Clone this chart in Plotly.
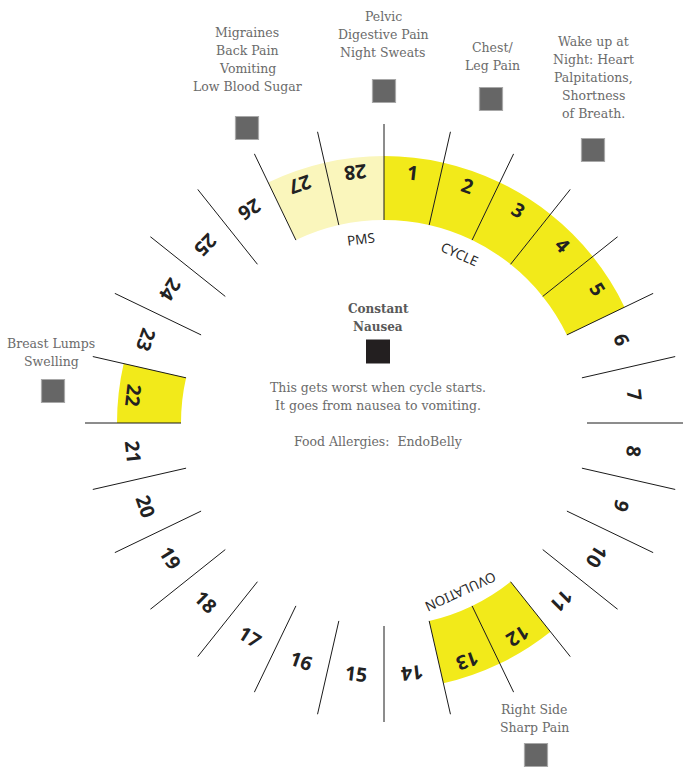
import math
import plotly.graph_objects as go

# ---------------- data ----------------
days = list(range(1, 29))
period_days = [1, 2, 3, 4, 5]          # "CYCLE" (bright yellow)
ovulation_days = [12, 13]              # "OVULATION" (bright yellow)
symptom_days = [22]                    # breast lumps (bright yellow)
pms_days = [27, 28]                    # "PMS" (pale yellow)

phase_names = ["PMS", "CYCLE", "OVULATION"]
phase_theta = [-7, 24, 155.5]          # angle (deg, clockwise from top)

callout_texts = [
    ["Migraines", "Back Pain", "Vomiting", "Low Blood Sugar"],
    ["Pelvic", "Digestive Pain", "Night Sweats"],
    ["Chest/", "Leg Pain"],
    ["Wake up at", "Night: Heart", "Palpitations,", "Shortness", "of Breath."],
    ["Breast Lumps", "Swelling"],
    ["Right Side", "Sharp Pain"],
]
center_title = ["Constant", "Nausea"]
center_note = ["This gets worst when cycle starts.", "It goes from nausea to vomiting."]
center_food = ["Food Allergies:  EndoBelly"]

# ---------------- geometry / style ----------------
W, H = 683, 771
CX, CY = 384, 423          # wheel centre in page pixels
P = 299                    # polar pixel radius (1 radial unit = 1 px)
INNER = 203
BAND = 64
LINE_OUT = 299
LABEL_R = 252
PHASE_R = 185
STEP = 360 / len(days)
LINE_GAP = 18              # text line spacing in px

YELLOW = "#F2EA1A"
PALE = "#FAF6BC"
TXT = "#6b6b6b"

# callout first-line centres / square markers (pixels relative to centre, y up)
callout_tx = [-137, -1, 108, 209, -333, 150]
callout_ty = [391, 407, 376, 382, 80, -286]
callout_sx = [-137, 0, 107, 209, -331, 152]
callout_sy = [295, 332, 324, 273, 32, -332]

fig = go.Figure()

# yellow bands
def band(day_list, color, name):
    fig.add_trace(go.Barpolar(
        r=[BAND] * len(day_list),
        base=[INNER] * len(day_list),
        theta=[(d - 0.5) * STEP for d in day_list],
        width=[STEP] * len(day_list),
        marker=dict(color=color, line=dict(width=0)),
        name=name, hoverinfo="skip", showlegend=False,
    ))

band(period_days, YELLOW, "cycle")
band(ovulation_days, YELLOW, "ovulation")
band(symptom_days, YELLOW, "symptom")
band(pms_days, PALE, "pms")

# spokes between days
lr, lt = [], []
for k in range(len(days)):
    lr += [INNER, LINE_OUT, None]
    lt += [k * STEP, k * STEP, None]
fig.add_trace(go.Scatterpolar(
    r=lr, theta=lt, mode="lines",
    line=dict(color="#1a1a1a", width=1),
    hoverinfo="skip", showlegend=False, cliponaxis=False,
))

# callout squares + centre square on an overlay cartesian plane (px units)
fig.add_trace(go.Scatter(
    x=callout_sx, y=callout_sy, mode="markers",
    marker=dict(symbol="square", size=23, color="#666666",
                line=dict(color="#a8a8a8", width=1.2)),
    hoverinfo="skip", showlegend=False,
))
fig.add_trace(go.Scatter(
    x=[-6], y=[71.5], mode="markers",
    marker=dict(symbol="square", size=24, color="#231F20", line=dict(width=0)),
    hoverinfo="skip", showlegend=False,
))

annotations = []
# day numbers
for d in days:
    th = (d - 0.5) * STEP
    ang = th if d <= 14 else th - 180
    annotations.append(dict(
        x=LABEL_R * math.sin(math.radians(th)),
        y=LABEL_R * math.cos(math.radians(th)),
        xref="x", yref="y", text=str(d), showarrow=False,
        textangle=ang, xanchor="center", yanchor="middle",
        font=dict(family="Open Sans", size=19.5, color="#222222", weight="bold"),
    ))
# phase names
for name, th in zip(phase_names, phase_theta):
    annotations.append(dict(
        x=PHASE_R * math.sin(math.radians(th)),
        y=PHASE_R * math.cos(math.radians(th)),
        xref="x", yref="y", text=name, showarrow=False,
        textangle=th, xanchor="center", yanchor="middle",
        font=dict(family="Noto Sans", size=13.5, color="#2a2a2a"),
    ))


def text_block(lines, x, y0, size, color, bold=False):
    for i, ln in enumerate(lines):
        annotations.append(dict(
            x=x, y=y0 - i * LINE_GAP, xref="x", yref="y",
            text=("<b>%s</b>" % ln) if bold else ln, showarrow=False,
            xanchor="center", yanchor="middle", align="center",
            font=dict(family="DejaVu Serif", size=size, color=color),
        ))


# callouts
for t, x, y in zip(callout_texts, callout_tx, callout_ty):
    text_block(t, x, y, 12.5, TXT)
# centre texts
text_block(center_title, -6, 114, 12, "#595959", bold=True)
text_block(center_note, -6, 36, 12.5, TXT)
text_block(center_food, -6, -18, 12.5, TXT)

fig.update_layout(
    width=W, height=H,
    margin=dict(l=0, r=0, t=0, b=0),
    paper_bgcolor="white", plot_bgcolor="rgba(0,0,0,0)",
    showlegend=False,
    polar=dict(
        domain=dict(x=[(CX - P) / W, min(1.0, (CX + P) / W)],
                    y=[(H - CY - P) / H, (H - CY + P) / H]),
        bgcolor="rgba(0,0,0,0)",
        bargap=0,
        radialaxis=dict(range=[0, P], visible=False),
        angularaxis=dict(rotation=90, direction="clockwise", showline=False,
                         showgrid=False, showticklabels=False, ticks=""),
    ),
    xaxis=dict(range=[-CX, W - CX], domain=[0, 1], visible=False, fixedrange=True),
    yaxis=dict(range=[-(H - CY), CY], domain=[0, 1], visible=False, fixedrange=True),
    annotations=annotations,
)

fig.write_html("out.html", config={"displayModeBar": False},
               post_script="document.body.style.margin='0';")
